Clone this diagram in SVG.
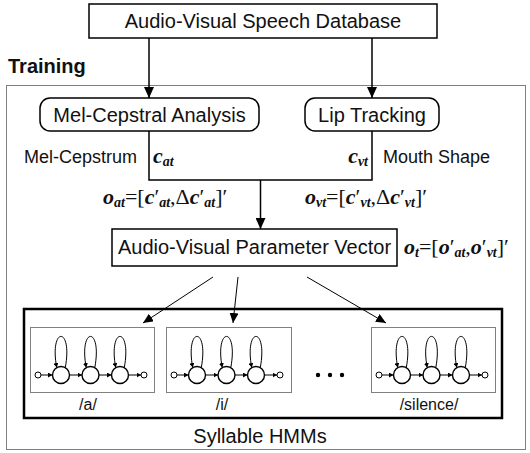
<svg xmlns="http://www.w3.org/2000/svg" width="530" height="453" viewBox="0 0 530 453">
<style>
.box{fill:#fff;stroke:#000;stroke-width:1.5}
.t{font-family:"Liberation Sans",Arial,sans-serif;font-size:20px;fill:#111}
.lbl{font-family:"Liberation Sans",Arial,sans-serif;font-size:18px;fill:#111}
.sm{font-family:"Liberation Sans",Arial,sans-serif;font-size:16px;fill:#111}
.m{font-family:"Liberation Serif","Times New Roman",serif;font-size:22px;fill:#111}
.bi{font-weight:bold;font-style:italic}
.sub{font-size:14px;font-weight:bold;font-style:italic}
.dot{fill:none;stroke:#000;stroke-width:1;stroke-dasharray:1,1}
.conn{fill:none;stroke:#000;stroke-width:1.5}
.thin{fill:none;stroke:#000;stroke-width:1}
.st{fill:#fff;stroke:#000;stroke-width:1.4}
.ss{fill:#fff;stroke:#000;stroke-width:1}
.hl{fill:none;stroke:#000;stroke-width:1}
</style>
<defs>
<marker id="ah" markerUnits="userSpaceOnUse" markerWidth="12" markerHeight="10" refX="11" refY="5" orient="auto"><path d="M0,0 L11,5 L0,10 Z" fill="#000"/></marker>
<marker id="ah2" markerUnits="userSpaceOnUse" markerWidth="11" markerHeight="9" refX="10" refY="4.5" orient="auto"><path d="M0,0 L10,4.5 L0,9 Z" fill="#000"/></marker>
<marker id="as" markerUnits="userSpaceOnUse" markerWidth="5" markerHeight="5" refX="4.5" refY="2.5" orient="auto"><path d="M0,0 L4.5,2.5 L0,5 Z" fill="#000"/></marker>
<g id="hmm">
<circle class="ss" cx="8" cy="0" r="3"/>
<path class="hl" d="M11,0 H22.5" marker-end="url(#as)"/>
<circle class="st" cx="31" cy="0" r="8.5"/>
<path class="hl" d="M39.5,0 H52" marker-end="url(#as)"/>
<circle class="st" cx="60.5" cy="0" r="8.5"/>
<path class="hl" d="M69,0 H81.5" marker-end="url(#as)"/>
<circle class="st" cx="90" cy="0" r="8.5"/>
<path class="hl" d="M98.5,0 H111" marker-end="url(#as)"/>
<circle class="ss" cx="114" cy="0" r="3"/>
<path class="hl" d="M35.3,-7.4 C43,-49 19,-49 26.7,-7.4" marker-end="url(#as)"/>
<path class="hl" d="M64.8,-7.4 C72.5,-49 48.5,-49 56.2,-7.4" marker-end="url(#as)"/>
<path class="hl" d="M94.3,-7.4 C102,-49 78,-49 85.7,-7.4" marker-end="url(#as)"/>
</g>
</defs>

<rect class="dot" x="6.5" y="85.5" width="519" height="364"/>
<text x="8" y="73" class="t" style="font-weight:bold">Training</text>

<g id="connectors">
<path class="conn" d="M149,38 V98" marker-end="url(#ah)"/>
<path class="conn" d="M372,38 V98" marker-end="url(#ah)"/>
<path class="conn" d="M149,131 V180 H372 V131"/>
<path class="conn" d="M260.5,180 V229" marker-end="url(#ah)"/>
<path class="thin" d="M213,277 L143,323" marker-end="url(#ah2)"/>
<path class="thin" d="M238,277 L233,323" marker-end="url(#ah2)"/>
<path class="thin" d="M307,277 L386,323" marker-end="url(#ah2)"/>
</g>

<g id="database">
<rect class="box" x="89" y="4" width="348" height="34"/>
<text class="t" x="263" y="28" text-anchor="middle">Audio-Visual Speech Database</text>
</g>

<g id="melcep">
<rect class="box" x="40" y="98" width="219" height="33" rx="10"/>
<text class="t" x="149.5" y="122" text-anchor="middle">Mel-Cepstral Analysis</text>
</g>

<g id="lip">
<rect class="box" x="305" y="98" width="134" height="33" rx="10"/>
<text class="t" x="372" y="122" text-anchor="middle">Lip Tracking</text>
</g>

<g id="labels">
<text class="lbl" x="24" y="163">Mel-Cepstrum</text>
<text class="m" x="153" y="163"><tspan class="bi">c</tspan><tspan class="sub" dy="3">at</tspan></text>
<text class="m" x="368" y="163" text-anchor="end"><tspan class="bi">c</tspan><tspan class="sub" dy="3">vt</tspan></text>
<text class="lbl" x="383" y="163">Mouth Shape</text>
<text class="m" x="103" y="204"><tspan class="bi">o</tspan><tspan class="sub" dy="3">at</tspan><tspan dy="-3">=[</tspan><tspan class="bi">c</tspan><tspan>′</tspan><tspan class="sub" dy="3">at</tspan><tspan dy="-3">,Δ</tspan><tspan class="bi">c</tspan><tspan>′</tspan><tspan class="sub" dy="3">at</tspan><tspan dy="-3">]′</tspan></text>
<text class="m" x="305" y="204"><tspan class="bi">o</tspan><tspan class="sub" dy="3">vt</tspan><tspan dy="-3">=[</tspan><tspan class="bi">c</tspan><tspan>′</tspan><tspan class="sub" dy="3">vt</tspan><tspan dy="-3">,Δ</tspan><tspan class="bi">c</tspan><tspan>′</tspan><tspan class="sub" dy="3">vt</tspan><tspan dy="-3">]′</tspan></text>
</g>

<g id="avparam">
<rect class="box" x="112" y="229" width="285" height="37"/>
<text class="t" x="254.5" y="254" text-anchor="middle">Audio-Visual Parameter Vector</text>
<text class="m" x="404" y="254"><tspan class="bi">o</tspan><tspan class="sub" dy="3">t</tspan><tspan dy="-3">=[</tspan><tspan class="bi">o</tspan><tspan>′</tspan><tspan class="sub" dy="3">at</tspan><tspan dy="-3">,</tspan><tspan class="bi">o</tspan><tspan>′</tspan><tspan class="sub" dy="3">vt</tspan><tspan dy="-3">]′</tspan></text>
</g>

<g id="hmms">
<rect x="24" y="309" width="478" height="109" fill="none" stroke="#000" stroke-width="2.5"/>
<text class="t" x="260" y="443" text-anchor="middle">Syllable HMMs</text>
</g>

<g id="hmm-a">
<rect class="dot" x="30.5" y="327.5" width="124" height="65"/>
<use href="#hmm" x="30" y="375"/>
<text class="sm" x="88" y="410" text-anchor="middle">/a/</text>
</g>
<g id="hmm-i">
<rect class="dot" x="166.5" y="327.5" width="125" height="65"/>
<use href="#hmm" x="166" y="375"/>
<text class="sm" x="222" y="410" text-anchor="middle">/i/</text>
</g>
<g id="ellipsis">
<circle cx="318" cy="375" r="2.2" fill="#000"/>
<circle cx="330" cy="375" r="2.2" fill="#000"/>
<circle cx="342" cy="375" r="2.2" fill="#000"/>
</g>
<g id="hmm-silence">
<rect class="dot" x="371.5" y="327.5" width="124" height="65"/>
<use href="#hmm" x="371" y="375"/>
<text class="sm" x="429" y="410" text-anchor="middle">/silence/</text>
</g>
</svg>
